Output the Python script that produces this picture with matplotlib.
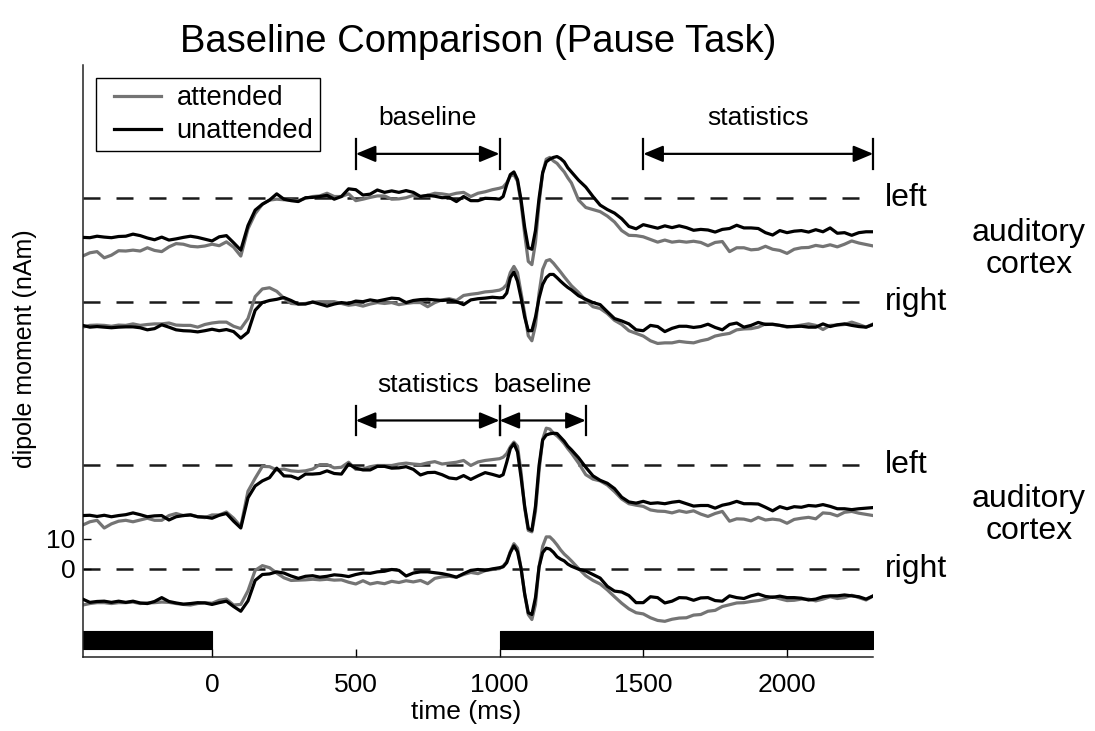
import numpy as np
import matplotlib
matplotlib.use('Agg')
import matplotlib.pyplot as plt
from matplotlib.patches import ArrowStyle
from matplotlib.legend_handler import HandlerLine2D

plt.rcParams['font.family'] = ['Liberation Sans', 'DejaVu Sans']

# time axis (ms): 25 ms steps, 12.5 ms around the fast response
times = np.concatenate([np.arange(-450, 1000, 25),
                        np.arange(1000, 1250, 12.5),
                        np.arange(1250, 2301, 25)])

# top block: baseline 500-1000 ms
tl_att = [-19.5, -18.4, -18.0, -20.1, -19.2, -17.7, -17.8, -17.5, -17.8, -16.7, -17.6, -18.0, -16.4, -15.3, -15.5, -16.2, -16.4, -16.1,
          -15.5, -16.0, -14.7, -16.5, -19.5, -10.3, -5.2, -2.0, -0.6, -0.3, -0.5, -0.6, -0.8, 0.0, 0.6, 0.8, 1.7, 0.6, 0.6, 1.5,
          -0.8, -0.3, 0.3, 0.8, 0.8, -0.3, -0.2, 0.2, 1.0, 0.6, 1.0, 1.7, 1.5, 1.1, 1.7, 2.0, 0.6, 1.7, 2.2, 2.9,
          3.4, 3.8, 5.2, 7.5, 8.0, 5.7, -1.7, -12.1, -21.3, -22.4, -14.9, -1.7, 8.6, 13.2, 13.8, 12.6, 11.8, 10.3, 8.9, 6.9,
          5.2, -0.6, -3.1, -3.8, -4.5, -6.0, -8.0, -10.9, -12.5, -12.6, -13.0, -13.9, -14.8, -14.1, -14.8, -14.5, -14.8, -14.5, -14.9,
          -16.0, -14.9, -14.6, -18.0, -16.7, -16.7, -17.4, -17.2, -16.2, -17.2, -17.6, -18.6, -17.2, -16.7, -16.6, -15.9, -16.3,
          -15.7, -16.4, -15.5, -14.4, -15.1, -15.6, -16.1]
tl_unatt = [-13.2, -13.3, -12.8, -13.1, -13.3, -12.9, -12.8, -12.1, -12.6, -13.4, -14.0, -13.1, -14.1, -13.7, -13.2, -12.8, -13.2, -13.8,
            -14.4, -13.0, -12.6, -15.0, -17.5, -9.2, -4.0, -2.0, -0.6, 1.5, -0.3, -0.8, -1.1, 0.2, 0.3, 0.6, 1.0, -0.3, 0.6, 3.2,
            2.9, 1.1, 1.4, 2.8, 2.0, 2.5, 2.0, 2.6, 2.0, 0.6, 1.0, 0.7, 0.2, 0.3, -1.1, 0.6, -0.8, -0.8, 0.0, -0.1,
            -0.3, 0.6, 4.6, 8.0, 8.9, 6.3, -0.6, -9.8, -16.7, -17.2, -10.9, 0.0, 8.6, 12.3, 13.2, 13.8, 14.1, 13.4, 12.3, 10.3,
            8.9, 6.1, 3.8, 0.6, -2.3, -3.8, -5.0, -6.9, -9.5, -10.3, -8.9, -9.5, -10.1, -9.3, -9.9, -9.3, -9.9, -10.8, -10.5,
            -10.7, -11.4, -10.5, -10.2, -9.1, -10.0, -10.0, -10.2, -11.6, -12.4, -10.9, -11.6, -11.1, -10.9, -11.4, -10.6, -11.3,
            -10.0, -11.8, -11.6, -12.5, -11.6, -11.3, -11.3]
tr_att = [-8.5, -7.9, -7.8, -7.9, -8.2, -7.8, -7.9, -7.4, -7.9, -7.6, -7.4, -7.4, -7.1, -7.8, -7.9, -7.9, -8.5, -7.6,
          -7.1, -6.8, -6.8, -8.2, -9.0, -5.6, 1.8, 4.4, 4.8, 3.6, 1.3, -0.5, -0.7, -0.5, -0.1, 0.1, 0.1, 0.1, -0.5, -1.1,
          -0.8, -1.4, -0.7, -0.2, -0.5, -0.2, -0.9, -0.5, -0.2, -0.2, -1.6, -0.2, 0.7, 1.1, 0.5, 2.2, 2.6, 2.9, 3.4, 3.6,
          4.0, 4.6, 5.9, 9.9, 12.0, 9.9, 3.0, -3.9, -11.4, -13.1, -7.9, 3.0, 11.0, 13.9, 14.3, 13.1, 11.6, 10.1, 8.5, 7.0,
          5.5, 3.2, 0.5, -1.6, -2.2, -3.9, -6.2, -7.6, -9.7, -10.6, -11.5, -13.1, -14.0, -13.8, -13.8, -13.3, -13.6, -13.8, -13.1,
          -12.6, -11.5, -11.0, -10.6, -9.4, -9.1, -9.0, -8.5, -7.4, -7.6, -7.9, -8.5, -8.2, -7.8, -7.4, -7.9, -9.3,
          -7.9, -7.8, -7.6, -6.8, -7.6, -8.5, -7.4]
tr_unatt = [-7.9, -8.5, -8.3, -8.5, -8.7, -8.5, -8.4, -8.4, -8.7, -9.4, -9.0, -7.7, -8.5, -9.4, -9.7, -9.8, -10.1, -9.7,
            -9.2, -9.7, -9.3, -10.0, -12.2, -10.2, -2.8, -0.2, 0.5, 0.9, 1.5, 0.5, -0.7, -0.7, 0.0, -0.7, -1.4, -0.7, -0.2, -0.5,
            0.3, 0.1, 0.7, 0.3, 0.8, 1.3, 1.1, -0.2, 0.5, 0.8, 0.9, 0.7, 0.5, 0.7, 0.1, -0.9, 0.7, 1.1, 1.3, 1.6,
            1.4, 1.5, 3.0, 8.2, 10.1, 7.0, 1.3, -5.1, -9.7, -9.7, -5.1, 1.3, 5.9, 8.2, 9.3, 9.3, 8.2, 7.0, 5.9, 4.9,
            4.1, 2.1, 0.9, -0.2, -0.9, -3.3, -5.6, -6.4, -7.4, -9.4, -9.7, -7.9, -8.3, -10.0, -8.9, -8.2, -8.2, -8.6, -8.3,
            -7.5, -8.6, -9.4, -7.6, -7.1, -8.5, -7.9, -6.9, -7.6, -7.5, -7.9, -8.3, -8.3, -8.2, -8.5, -8.5, -7.4,
            -8.3, -7.7, -7.4, -7.9, -8.3, -8.5, -7.6]

# bottom block: baseline 1000-1300 ms
bl_att = [-20.3, -19.2, -18.7, -21.3, -19.9, -19.0, -18.7, -19.2, -18.6, -18.0, -18.7, -18.7, -17.1, -16.4, -17.1, -16.8, -17.5, -17.8,
          -16.9, -16.9, -15.9, -18.0, -20.8, -8.9, -4.5, -0.5, -0.6, -1.7, -1.4, -2.0, -2.2, -2.0, -1.4, 0.1, 0.1, -1.0, -0.8, 0.9,
          -1.5, -1.4, -0.6, -0.2, -0.2, -0.2, 0.3, 0.6, 0.3, 0.1, 0.7, 1.1, 0.3, 0.6, 0.9, 1.5, -0.2, 1.0, 1.5, 1.8,
          2.1, 2.6, 3.8, 6.1, 7.7, 6.3, -2.5, -14.6, -22.1, -22.6, -15.7, -2.0, 8.6, 12.4, 12.1, 10.7, 9.8, 8.6, 7.2, 5.5,
          4.0, 0.6, -3.3, -4.8, -5.4, -6.8, -9.0, -11.5, -13.1, -13.6, -14.0, -15.2, -15.6, -15.7, -16.2, -15.5, -16.0, -15.5, -16.6,
          -17.4, -16.4, -15.7, -19.0, -18.2, -18.3, -18.9, -17.7, -18.6, -18.3, -18.6, -19.7, -18.4, -18.0, -17.7, -18.2, -16.2,
          -16.4, -17.2, -16.0, -15.7, -16.3, -16.7, -17.1]
bl_unatt = [-17.1, -17.0, -17.4, -17.0, -17.5, -17.1, -16.8, -16.2, -16.8, -17.5, -17.2, -17.1, -18.6, -17.5, -17.1, -16.9, -17.5, -17.6,
            -18.0, -17.0, -16.4, -19.0, -21.3, -11.1, -7.1, -5.4, -4.3, -1.1, -3.7, -3.8, -4.7, -3.1, -3.1, -2.9, -2.0, -2.9, -3.1, 0.3,
            -1.1, -1.7, -1.7, -0.5, -0.5, -1.1, -1.0, -0.6, -1.5, -3.4, -2.6, -2.5, -3.3, -4.4, -4.7, -3.6, -4.9, -3.7, -2.6, -3.2,
            -3.9, -3.3, 0.9, 5.5, 7.2, 4.4, -4.3, -14.0, -21.5, -22.1, -14.0, -0.2, 8.4, 10.1, 10.5, 10.7, 10.6, 9.3, 8.0, 6.3,
            5.1, 2.4, -0.8, -3.7, -5.2, -6.2, -8.0, -10.9, -12.5, -12.9, -12.3, -13.0, -12.8, -13.1, -12.6, -12.3, -13.1, -13.9, -13.7,
            -13.7, -14.6, -13.6, -13.1, -12.3, -13.1, -13.1, -13.2, -14.3, -15.5, -14.1, -14.8, -14.1, -14.3, -13.7, -13.9, -13.4,
            -14.0, -14.8, -14.8, -15.1, -14.8, -14.6, -14.4]
br_att = [-12.3, -11.8, -11.5, -11.5, -11.8, -11.5, -11.5, -11.3, -11.8, -11.6, -11.5, -11.3, -11.4, -11.8, -12.1, -12.3, -11.8, -11.5,
          -11.7, -10.7, -10.3, -12.3, -12.1, -7.5, -0.6, 1.0, 0.3, -1.5, -3.1, -4.0, -3.9, -3.8, -3.6, -3.8, -3.6, -3.9, -3.8, -4.6,
          -5.2, -4.1, -5.2, -4.7, -5.1, -4.3, -4.7, -4.1, -4.5, -4.0, -5.1, -3.3, -2.8, -2.6, -2.9, -2.0, -1.3, -1.7, -0.7, -0.3,
          0.0, 0.8, 2.3, 5.7, 8.4, 6.9, 0.0, -8.6, -15.5, -17.2, -12.1, 0.6, 7.5, 10.7, 10.7, 9.5, 8.0, 6.3, 4.9, 3.8,
          2.6, 0.0, -2.4, -4.0, -5.2, -7.2, -9.5, -11.7, -13.6, -14.9, -15.3, -16.6, -17.5, -17.8, -17.1, -16.7, -16.6, -15.7, -15.5,
          -14.4, -14.1, -12.8, -12.2, -11.6, -11.5, -11.1, -10.8, -10.3, -9.5, -10.2, -10.8, -10.7, -10.3, -10.3, -10.9, -10.3,
          -9.5, -10.1, -9.8, -9.0, -9.8, -10.6, -9.2]
br_unatt = [-10.3, -11.4, -11.1, -11.0, -11.4, -11.0, -11.4, -11.0, -11.6, -11.8, -11.1, -9.8, -11.1, -11.6, -12.0, -11.8, -11.5, -11.6,
            -12.1, -11.5, -11.0, -12.8, -14.4, -10.9, -4.0, -2.0, -1.8, -1.1, -1.5, -2.5, -3.3, -2.6, -2.4, -2.9, -2.6, -2.1, -2.3, -2.7,
            -2.0, -1.5, -1.6, -1.1, -0.9, -0.3, -0.6, -2.5, -1.5, -1.1, -1.1, -1.4, -1.7, -2.2, -2.9, -1.7, -0.6, -0.3, -0.6, -0.1,
            0.3, 0.6, 2.0, 5.4, 7.7, 5.7, 0.0, -8.6, -14.9, -15.5, -9.8, 0.6, 5.4, 6.9, 6.6, 5.5, 4.0, 3.2, 2.6, 1.5,
            0.8, -0.2, -0.8, -2.0, -3.2, -6.0, -7.6, -7.9, -9.1, -11.5, -11.5, -9.5, -9.8, -11.6, -11.0, -9.8, -9.9, -10.7, -9.9,
            -9.8, -10.8, -11.0, -9.2, -9.8, -10.1, -9.2, -8.6, -9.4, -9.7, -9.3, -9.8, -9.8, -10.0, -10.6, -10.3, -9.5,
            -9.2, -9.2, -8.9, -9.2, -9.5, -10.3, -9.2]

offsets = [125, 90, 35, 0]
sides = ['left', 'right', 'left', 'right']
attended = [tl_att, tr_att, bl_att, br_att]
unattended = [tl_unatt, tr_unatt, bl_unatt, br_unatt]

# analysis windows (ms) and arrow heights
windows = [(500, 1000, 'baseline'), (1500, 2300, 'statistics'),
           (500, 1000, 'statistics'), (1000, 1300, 'baseline')]
window_y = [140, 140, 50, 50]
# stimulus bars (ms)
stim = [(-450, 0), (1000, 2300)]

gray = '#747474'

fig = plt.figure(figsize=(10.95, 7.31), dpi=100)
ax = fig.add_axes([0.0755, 0.1006, 0.7220, 0.8105])

for off, a, u in zip(offsets, attended, unattended):
    ax.axhline(off, color='#1a1a1a', lw=1.8, ls=(0, (6.8, 6.4)), zorder=1)
    ax.plot(times, np.array(a) + off, color=gray, lw=2.3, zorder=2)
    ax.plot(times, np.array(u) + off, color='k', lw=2.3, zorder=3)

ax.plot([], [], color=gray, lw=2.3, label='attended')
ax.plot([], [], color='k', lw=2.3, label='unattended')

for t0, t1 in stim:
    ax.fill_between([t0, t1], -27, -21, color='k', lw=0.8)

style = ArrowStyle('<|-|>', head_length=1.2, head_width=0.5)
for (t0, t1, txt), y in zip(windows, window_y):
    ax.annotate('', xy=(t0, y), xytext=(t1, y),
                arrowprops=dict(arrowstyle=style, color='k', lw=1.6,
                                shrinkA=0, shrinkB=0, mutation_scale=10))
    ax.plot([t0, t0], [y - 5, y + 5], color='k', lw=1.6)
    ax.plot([t1, t1], [y - 5, y + 5], color='k', lw=1.6, clip_on=False)
    ax.text((t0 + t1) / 2, y + 12, txt, ha='center', va='center', fontsize=19)

for off, side in zip(offsets, sides):
    ax.text(2340, off, side, ha='left', va='center', fontsize=23, clip_on=False)
for y in [108, 18]:
    ax.text(2842, y, 'auditory\ncortex', ha='center', va='center', fontsize=23,
            multialignment='center', linespacing=1.1, clip_on=False)

ax.set_xlim(-450, 2300)
ax.set_ylim(-30, 170)
ax.set_xticks([0, 500, 1000, 1500, 2000])
ax.set_yticks([0, 10])
ax.tick_params(direction='in', length=6, width=1, labelsize=19)
ax.tick_params(axis='x', pad=11)
ax.tick_params(axis='y', pad=5)
for s in ['top', 'right']:
    ax.spines[s].set_visible(False)
for s in ['left', 'bottom']:
    ax.spines[s].set_linewidth(1.1)
    ax.spines[s].set_color('#222222')

ax.set_xlabel('time (ms)', fontsize=19)
ax.xaxis.set_label_coords(0.4855, -0.0715)
ax.set_ylabel('dipole moment (nAm)', fontsize=18)
ax.yaxis.set_label_coords(-0.058, 0.521)
ax.set_title('Baseline Comparison (Pause Task)', fontsize=27.5, pad=9.5)

leg = ax.legend(loc='upper left', bbox_to_anchor=(0.0168, 0.9775), borderaxespad=0,
                fontsize=19.7, handlelength=2.12, handletextpad=0.58, borderpad=0.25,
                labelspacing=0.26, fancybox=False, framealpha=1, edgecolor='k',
                handler_map={plt.Line2D: HandlerLine2D(xpad=0.42)})
leg.get_frame().set_linewidth(1.0)

fig.savefig('out.png', dpi=100)
